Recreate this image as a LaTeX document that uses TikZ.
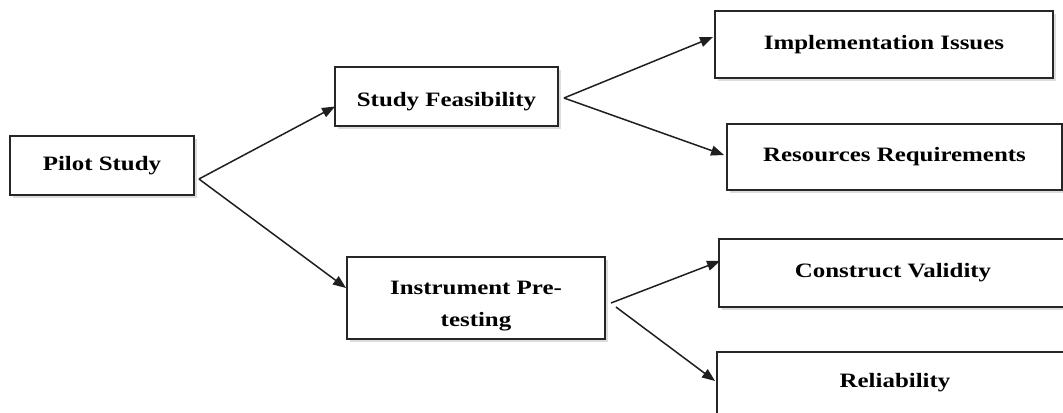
\documentclass[tikz,border=0pt]{standalone}
\usepackage{fontspec}
\setmainfont{Liberation Serif}[FakeStretch=1.22]
\usetikzlibrary{arrows.meta,shadows}
\begin{document}
\begin{tikzpicture}[x=1bp,y=-1bp,
  boxfont/.style={font=\fontsize{20.5}{33}\selectfont\bfseries, align=center},
  box/.style={draw=black!85, line width=1.9bp, fill=white, inner sep=0pt, boxfont,
    drop shadow={shadow xshift=3bp, shadow yshift=-3bp, opacity=0.22, fill=black!60}},
  link/.style={draw=black!88, line width=1.5bp, -{Triangle[length=13bp,width=10bp]}}]
\clip (0,0) rectangle (1063,412);
\fill[white] (0,0) rectangle (1063,412);

% first level
\node[box, minimum width=184bp, minimum height=59bp] (pilot) at (102,165.5) {Pilot Study};

% second level (text set a little below the box centre)
\node[box, minimum width=223bp, minimum height=59bp,
  label={[boxfont, yshift=-5bp]center:Study Feasibility}] (study) at (446.5,96.5) {};
\node[box, minimum width=258bp, minimum height=82bp,
  label={[boxfont, yshift=-8bp]center:{Instrument Pre-\\testing}}] (instr) at (476,298) {};

% third level
\node[box, minimum width=338bp, minimum height=67bp] (impl) at (884,44.5) {Implementation Issues};
\node[box, minimum width=335bp, minimum height=66bp] (res) at (894.5,157) {Resources Requirements};
\node[box, minimum width=348bp, minimum height=68bp] (constr) at (893,273) {Construct Validity};
\node[box, minimum width=356bp, minimum height=62bp] (rel) at (895,383) {Reliability};

% connectors
\draw[link] ([shift={(4,13.5)}]pilot.east) -- ([shift={(1,10)}]study.west);
\draw[link] ([shift={(4,13.5)}]pilot.east) -- ([shift={(0,-10)}]instr.west);
\draw[link] ([shift={(5,1.5)}]study.east) -- ([shift={(-1,-7.5)}]impl.west);
\draw[link] ([shift={(5,1.5)}]study.east) -- ([shift={(-2,-2)}]res.west);
\draw[link] ([shift={(5,5)}]instr.east) -- ([shift={(2,-12)}]constr.west);
\draw[link] ([shift={(10,9)}]instr.east) -- ([shift={(-1,-2)}]rel.west);
\end{tikzpicture}
\end{document}
